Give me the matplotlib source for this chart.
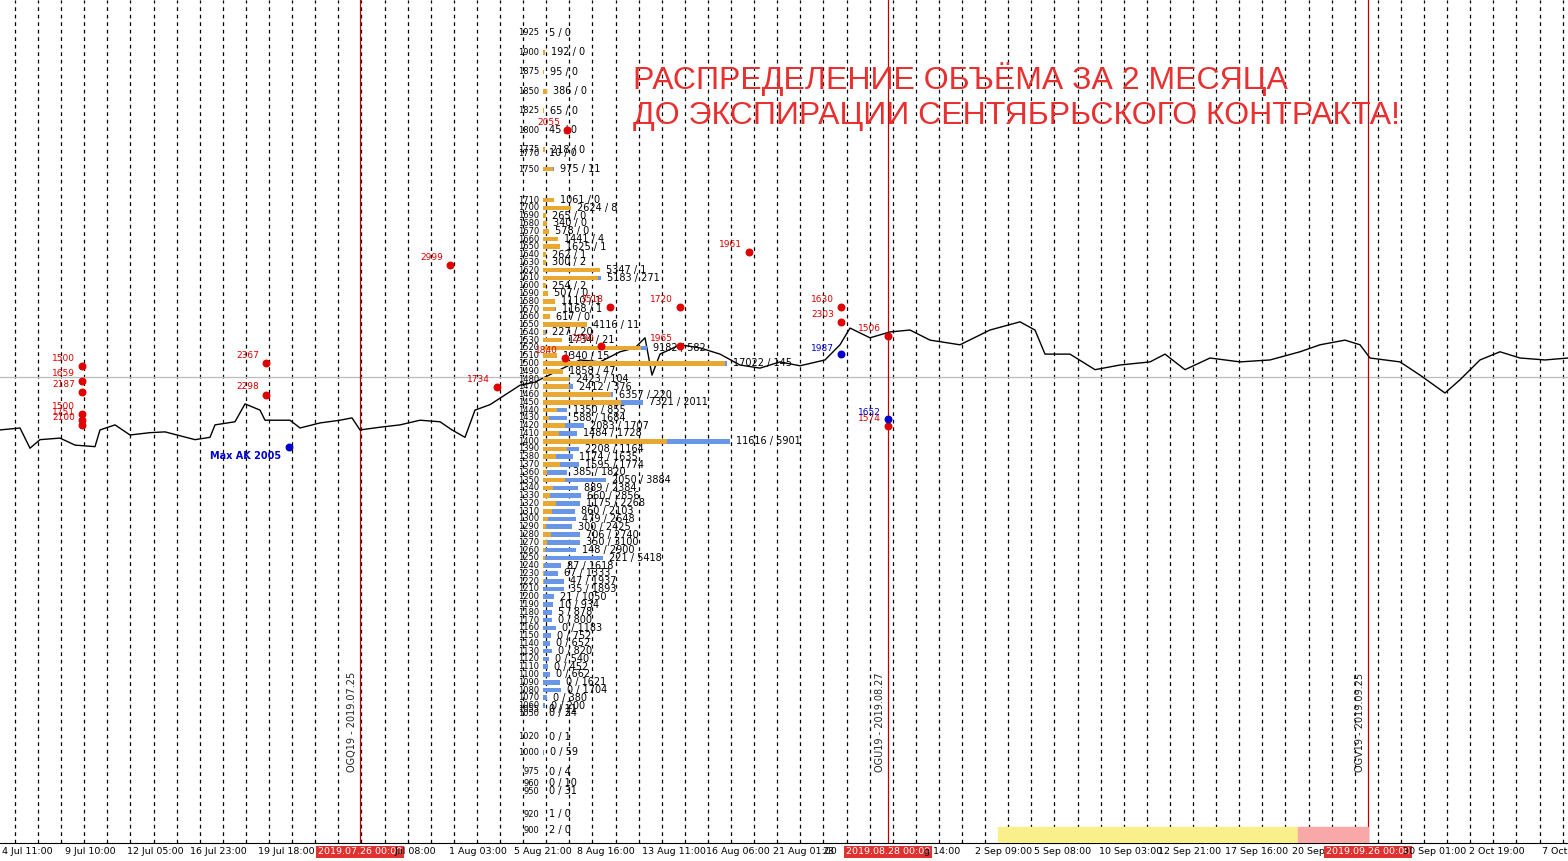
import matplotlib
matplotlib.use("Agg")
import matplotlib.pyplot as plt
import numpy as np

plt.rcParams['font.family'] = ['DejaVu Sans']

# ---- price path (bar index, price) ----
px = [0,20,30,40,60,75,95,100,115,130,150,165,195,210,215,235,245,260,265,290,300,320,340,352,360,380,400,420,440,452,465,475,490,505,520,535,560,580,600,620,635,645,652,660,680,700,720,740,760,780,800,825,840,850,870,890,910,930,960,990,1020,1035,1045,1070,1095,1120,1150,1165,1185,1210,1240,1270,1300,1320,1345,1360,1370,1400,1420,1445,1460,1480,1500,1520,1545,1568]
pp = [1414.5,1417,1391,1402,1404,1395,1393,1414.5,1421,1408,1411,1412,1402,1405,1421,1425,1448,1440,1427,1427,1417,1423.5,1427,1430,1414.5,1418,1421,1427,1425,1414.5,1405,1440,1447,1459.5,1472,1476,1492,1504.5,1502,1515,1520,1533,1485,1512,1524,1520,1512,1498,1494,1502,1497,1504.5,1524,1545.5,1533,1540.5,1543,1530,1524,1543,1553.5,1543,1512,1512,1492,1498,1502,1512,1492,1507,1502,1504.5,1515,1524,1530,1524,1507,1502,1485,1462,1479,1504.5,1515,1507,1504.5,1507]

# ---- option volume profile ----
top_strikes = [1925,1900,1875,1850,1825,1800,1775,1770,1750,1710,1700]
top_calls = [5,192,95,386,65,45,218,10,975,1061,2624]
top_puts = [0,0,0,0,0,0,0,0,11,0,8]
mid_strikes = list(range(1690, 1050, -10))
mid_calls = [265,340,578,1441,1625,262,300,5347,5183,254,507,1110,1168,617,4116,227,1734,9182,1340,17022,1858,2423,2412,6357,7321,1350,588,2083,1484,11616,2208,1174,1595,385,2050,889,660,1175,860,479,300,706,350,148,221,87,67,47,35,21,10,5,0,0,0,0,0,0,0,0,0,0,0,0]
mid_puts = [0,0,0,4,1,1,2,1,271,2,0,1,1,0,11,20,21,582,15,145,47,104,376,220,2011,855,1684,1707,1728,5901,1164,1635,1774,1820,3884,2384,2856,2268,2103,2648,2425,2740,3100,2900,5418,1618,1333,1937,1893,1050,934,878,800,1183,752,652,820,540,452,662,1621,1704,380,200]
low_strikes = [1055,1050,1020,1000,975,960,950,920,900]
low_calls = [0,0,0,0,0,0,0,1,2]
low_puts = [11,24,1,59,4,10,31,0,0]

strikes = top_strikes + mid_strikes + low_strikes
calls = top_calls + mid_calls + low_calls
puts = top_puts + mid_puts + low_puts

# ---- annotations ----
red_x = [82,82,82,82,82,82,266,266,450,497,567,610,680,749,680,841,841,888,888,601,565]
red_y = [1497,1477.5,1463,1435,1427,1421,1500,1460,1626,1470,1800,1573,1573,1643,1522,1573,1553,1535,1419,1522,1507]
red_lab = ['1500','1659','2187','1500','1751','2100','2367','2298','2999','1734','2055','3518','1720','1961','1965','1630','2303','1506','1574','2390','1840']
blue_x = [289,841,888]
blue_y = [1392,1512,1429]
blue_lab = ['Max AK 2005','1987','1652']

tick_pos = [27,90,155,218,286,360,415,478,543,606,674,738,805,828,888,942,1004,1063,1131,1190,1257,1316,1368,1435,1497,1555]
tick_lab = ['4 Jul 11:00','9 Jul 10:00','12 Jul 05:00','16 Jul 23:00','19 Jul 18:00','2019.07.26 00:00','Jul 08:00','1 Aug 03:00','5 Aug 21:00','8 Aug 16:00','13 Aug 11:00','16 Aug 06:00','21 Aug 01:00','23','2019.08.28 00:00','g 14:00','2 Sep 09:00','5 Sep 08:00','10 Sep 03:00','12 Sep 21:00','17 Sep 16:00','20 Sep 11','2019.09.26 00:00','30 Sep 01:00','2 Oct 19:00','7 Oct']
expiry_x = [360,888,1368]
expiry_lab = ['OGQ19 - 2019.07.25','OGU19 - 2019.08.27','OGV19 - 2019.09.25']

fig = plt.figure(figsize=(15.68,8.61), dpi=100)
ax = fig.add_axes([0, 18/861, 1, 843/861])
ax.set_xlim(0,1568)
ax.set_ylim(883.3,1967.4)
for s in ['top','right','left']:
    ax.spines[s].set_visible(False)
ax.spines['bottom'].set_color('black')
ax.set_yticks([])

for xv in np.arange(15,1568,23.1):
    ax.axvline(xv, color='black', ls=(0,(3,3)), lw=0.9, zorder=1)
for xv in expiry_x:
    ax.axvline(xv, color='#c00000', lw=0.9, zorder=2)
ax.axhline(1482.6, color='#bbbbbb', lw=0.9, zorder=1)

ax.axvspan(998,1298, ymin=0, ymax=16/843, color='#faf08a', zorder=3)
ax.axvspan(1298,1368, ymin=0, ymax=16/843, color='#f8a8a8', zorder=3)

for xv, t in zip(expiry_x, expiry_lab):
    ax.text(xv-3, 975, t, rotation=90, fontsize=7, ha='right', va='bottom', color='#222222', zorder=4)

ax.plot(px, pp, color='black', lw=1.0, zorder=5)

scale = 0.0107
x0 = 543
s = np.array(strikes, float); c = np.array(calls, float); p = np.array(puts, float)
ax.barh(s, c*scale, left=x0, height=6, color='#e8a832', zorder=6)
ax.barh(s, p*scale, left=x0 + c*scale, height=6, color='#6a96e8', zorder=6)
for sv, cv, pv in zip(strikes, calls, puts):
    ax.text(x0 + (cv+pv)*scale + 6, sv, f'{cv} / {pv}', fontsize=7, va='center', ha='left', zorder=7)
    ax.text(539, sv, str(sv), fontsize=6, va='center', ha='right', zorder=7)

ax.scatter(red_x, red_y, color='#e00000', s=22, zorder=8)
for xv, yv, t in zip(red_x, red_y, red_lab):
    ax.text(xv-7, yv+4, t, color='#e00000', fontsize=6.5, ha='right', va='bottom', zorder=8)
ax.scatter(blue_x, blue_y, color='#0000cc', s=22, zorder=8)
ax.text(blue_x[0]-8, blue_y[0]-4, blue_lab[0], color='#0000cc', fontsize=7, fontweight='bold', ha='right', va='top', zorder=8)
for xv, yv, t in zip(blue_x[1:], blue_y[1:], blue_lab[1:]):
    ax.text(xv-7, yv+2, t, color='#0000cc', fontsize=6.5, ha='right', va='bottom', zorder=8)

ax.text(633, 1958-(55-0)/0.7776, 'РАСПРЕДЕЛЕНИЕ ОБЪЁМА ЗА 2 МЕСЯЦА\nДО ЭКСПИРАЦИИ СЕНТЯБРЬСКОГО КОНТРАКТА!',
        color='#e83030', fontsize=23, family=['Liberation Sans','DejaVu Sans'], ha='left', va='top', linespacing=1.2, zorder=9)

ax.set_xticks(tick_pos)
ax.set_xticklabels(tick_lab, fontsize=6.8)
ax.tick_params(axis='x', length=0, pad=3)
for lbl in ax.get_xticklabels():
    if lbl.get_text().startswith('2019.'):
        lbl.set_color('white')
        lbl.set_bbox(dict(facecolor='#e03030', edgecolor='none', pad=1))
fig.savefig('out.png', dpi=100, facecolor='white')
